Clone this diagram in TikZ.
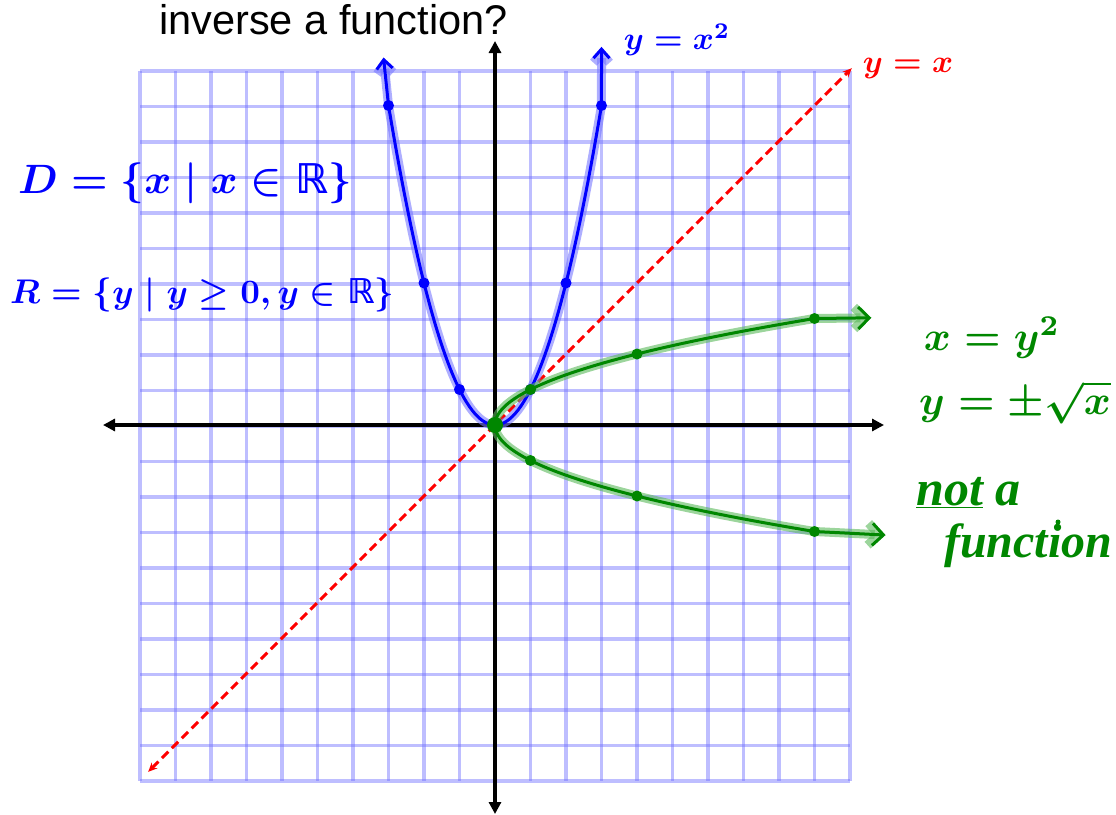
\documentclass[tikz,border=0pt]{standalone}
\usepackage{graphicx}
\usepackage{fontspec}
\setmainfont{Liberation Sans}
\newfontfamily\symfont{DejaVu Sans}
\newfontfamily\handserif{Liberation Serif}
\usetikzlibrary{arrows.meta}
\definecolor{gridc}{RGB}{110,110,255}
\definecolor{hblue}{RGB}{0,0,255}
\definecolor{hbluehalo}{RGB}{120,120,255}
\definecolor{hgreen}{RGB}{0,135,0}
\definecolor{hgreenhalo}{RGB}{90,185,90}
\definecolor{hred}{RGB}{255,0,0}
\newcommand{\dsR}{\hbox{\symfont\bfseries ℝ}}
\tikzset{
  gridln/.style={draw=gridc, line width=3.5pt, draw opacity=0.45},
  axisln/.style={draw=black, line width=4pt, {Triangle[length=12pt,width=12pt]}-{Triangle[length=12pt,width=12pt]}},
  bluecurve/.style={draw=hblue, line width=3pt, line join=round, line cap=round,
     preaction={draw=hbluehalo, line width=9pt, draw opacity=0.6}},
  greencurve/.style={draw=hgreen, line width=3pt, line join=round, line cap=round,
     preaction={draw=hgreenhalo, line width=9pt, draw opacity=0.6}},
  reddash/.style={draw=hred, line width=3pt, dash pattern=on 9pt off 5pt,
     {Stealth[length=9pt,width=8pt]}-{Stealth[length=9pt,width=8pt]}},
  bdot/.style={circle, fill=hblue, inner sep=0pt, minimum size=11pt},
  gdot/.style={circle, fill=hgreen, inner sep=0pt, minimum size=11pt},
  bluetext/.style={inner sep=0pt, text=hblue, font=\boldmath},
  greentext/.style={inner sep=0pt, text=hgreen, font=\boldmath},
  redtext/.style={inner sep=0pt, text=hred, font=\boldmath},
}
\begin{document}
\begin{tikzpicture}[x=1pt,y=-1pt]
\useasboundingbox (0,0) rectangle (1116,814);
% grid
\foreach \i in {0,...,20} {
  \draw[gridln] (140+\i*35.5,71) -- (140+\i*35.5,781);
  \draw[gridln] (140,71+\i*35.5) -- (850,71+\i*35.5);
}
% title
\node[anchor=base west, inner sep=0pt, font=\fontsize{41.5}{48}\selectfont] (title) at (159,34) {inverse a function?};
% axes
\coordinate (xl) at (103,425);
\coordinate (xr) at (884,425);
\coordinate (yt) at (495,41);
\coordinate (yb) at (495,814);
\draw[axisln] (xl) -- (xr);
\draw[axisln] (yb) -- (yt);
% math scope
\begin{scope}[shift={(495,425)}, x=35.5pt, y=35.5pt]
  \coordinate (O) at (0,0);
  \coordinate (rl) at (-9.77,-9.77);
  \coordinate (ru) at (10.05,10.05);
  \draw[reddash] (rl) -- (ru);
  % parabola
  \coordinate (pl) at (-3.14,10.35);
  \coordinate (pr) at (3.0,10.65);
  \draw[bluecurve, {Straight Barb[length=9pt,width=16pt]}-{Straight Barb[length=9pt,width=16pt]}]
     (pl) -- plot[domain=-3:3, samples=80] (\x,{\x*\x}) -- (pr);
  \foreach \t [count=\k] in {-3,-2,-1,1,2,3} {
    \node[bdot] (b\k) at (\t,{\t*\t}) {};
  }
  % square root branches
  \coordinate (gu) at (10.6,3.02);
  \coordinate (gd) at (11.0,-3.1);
  \draw[greencurve, -{Straight Barb[length=11pt,width=22pt]}]
     plot[domain=0:3, samples=80] ({\x*\x},\x) -- (gu);
  \draw[greencurve, -{Straight Barb[length=11pt,width=22pt]}]
     plot[domain=0:3, samples=80] ({\x*\x},-\x) -- (gd);
  \foreach \t [count=\k] in {1,2,3} {
    \node[gdot] (gu\k) at ({\t*\t},\t) {};
    \node[gdot] (gd\k) at ({\t*\t},-\t) {};
  }
  \node[gdot, minimum size=16pt] (g0) at (O) {};
\end{scope}
% labels
\node[bluetext] (lblpar) at (677,40) {\scalebox{3.2}{$y=x^2$}};
\node[redtext] (lblred) at (908,68) {\scalebox{3.2}{$y=x$}};
\node[bluetext, anchor=west] (dom) at (18,183) {\scalebox{4.1}{$D=\{x\mid x\in\dsR\}$}};
\node[bluetext, anchor=west] (ran) at (10,295) {\scalebox{3.42}{$R=\{y\mid y\geq 0, y\in\dsR\}$}};
\node[greentext] (eq1) at (992,338) {\scalebox{4.1}{$x=y^2$}};
\node[greentext] (eq2) at (1015,402) {\scalebox{4.1}{$y=\pm\sqrt{x}$}};
\node[greentext, anchor=base west, font=\fontsize{50}{50}\handserif\bfseries\itshape\selectfont] (nota) at (916,505) {\underline{not} a};
\node[greentext, anchor=base west, font=\fontsize{48}{48}\handserif\bfseries\itshape\selectfont] (func) at (944,557) {function};
\node[circle, fill=hgreen, inner sep=0pt, minimum size=5pt] (gdotx) at (1058,522) {};
\end{tikzpicture}
\end{document}
